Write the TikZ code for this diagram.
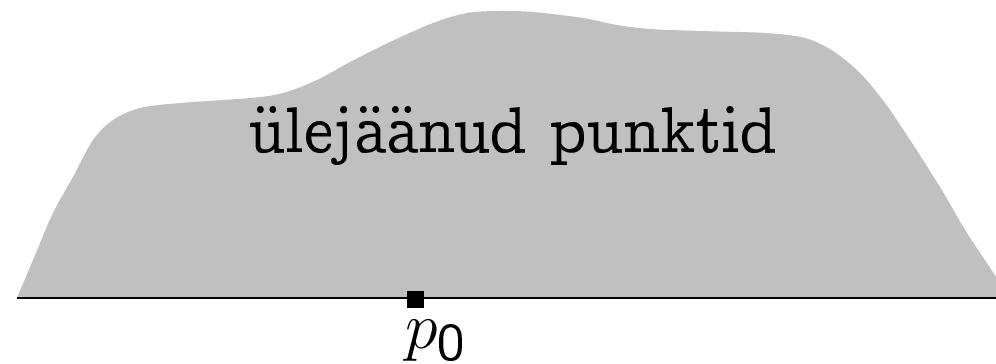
\documentclass[tikz,border=0pt]{standalone}
\usepackage[OT1]{fontenc}
\usepackage{ccfonts}
\SetSymbolFont{letters}{normal}{OML}{cmm}{m}{it}
\SetSymbolFont{letters}{bold}{OML}{cmm}{b}{it}
\SetSymbolFont{symbols}{normal}{OMS}{cmsy}{m}{n}
\SetSymbolFont{symbols}{bold}{OMS}{cmsy}{b}{n}
\SetSymbolFont{largesymbols}{normal}{OMX}{cmex}{m}{n}
\SetSymbolFont{largesymbols}{bold}{OMX}{cmex}{m}{n}
\usepackage{tikz}
\usetikzlibrary{positioning}
\definecolor{Blob}{HTML}{C0C0C0}

\begin{document}
\begin{tikzpicture}[x=0.02cm,y=-0.02cm]
\tikzstyle{region}=[fill=Blob,draw=none]
\tikzstyle{base}=[line width=1.2pt]
\tikzstyle{pt}=[fill=black,minimum size=0.34cm,inner sep=0pt]
\tikzstyle{big}=[font=\fontsize{24.88}{30}\selectfont,scale=1.51,inner sep=0pt]
\useasboundingbox (0,0) rectangle (996,363);
\begin{scope}
\clip (0,0) rectangle (996,363);
% the point set above the line
\fill[region] plot[smooth,tension=0.55] coordinates {(17,298) (33,260) (53,213) (73,177) (93,140) (113,120) (140,108) (180,103) (250,98) (283,93) (317,80) (350,62) (390,42) (433,23) (467,13) (500,11) (533,12) (583,18) (617,25) (650,29) (700,31) (765,33) (805,38) (833,51) (860,73) (885,103) (910,140) (940,187) (967,233) (996,277) (1012,305)} -- (1012,298) -- cycle;
\end{scope}
\coordinate (l) at (17,298);
\coordinate (r) at (996,298);
\draw[base] (l) -- (r);
\node[pt] (p0) at (415,299) {};
\node[big,anchor=base west] (lab) at (405,348) {$p_0$};
\node[big,anchor=base] (txt) at (513,152) {\"ulej\"a\"anud punktid};
\end{tikzpicture}
\end{document}
